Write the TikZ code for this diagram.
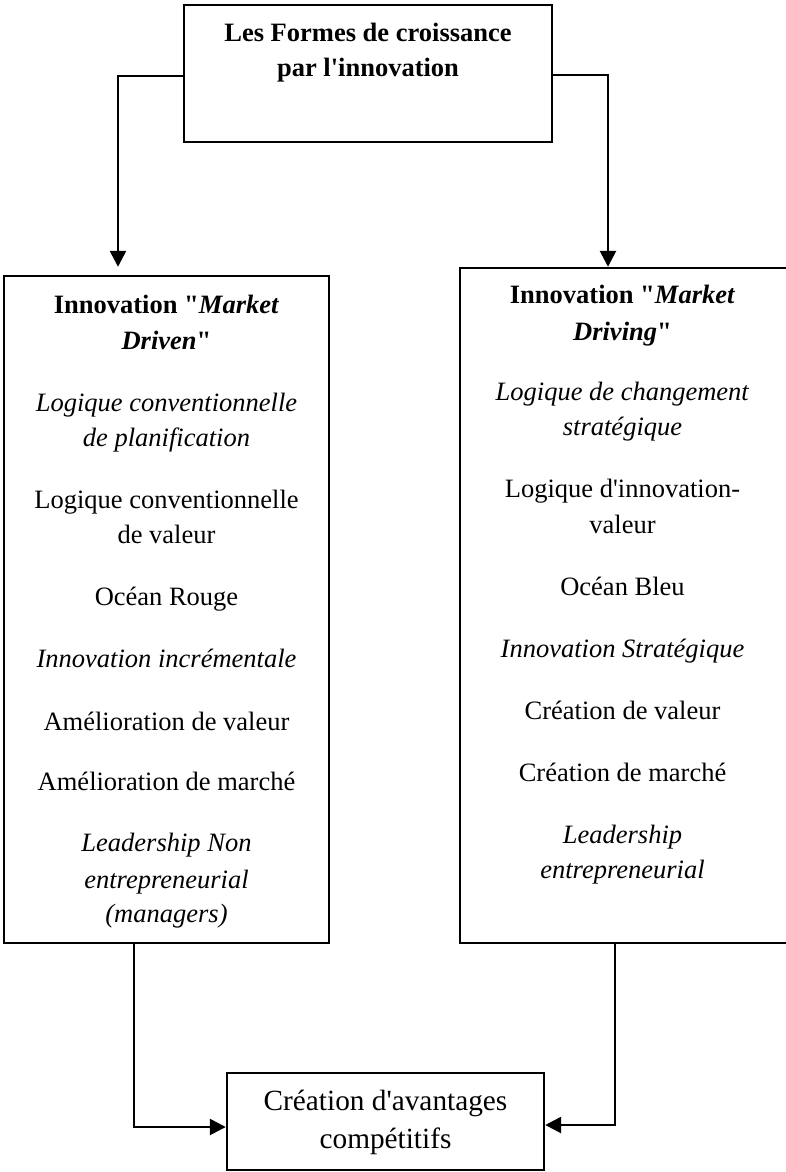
\documentclass[tikz,border=0pt]{standalone}
\usepackage{fontspec}
\setmainfont{Liberation Serif}[Ligatures=TeXOff]
\usetikzlibrary{arrows.meta}
\begin{document}
\begin{tikzpicture}[x=1pt,y=-1pt,
  box/.style={draw, line width=2.4pt, inner sep=0pt},
  conn/.style={line width=2.6pt, -{Triangle[length=16pt,width=16pt]}},
  txt/.style={anchor=base, inner sep=0pt, font=\fontsize{26.5pt}{35pt}\selectfont},
  big/.style={anchor=base, inner sep=0pt, font=\fontsize{29.3pt}{38pt}\selectfont}]
\useasboundingbox (0,0) rectangle (785,1172);
% boxes
\node[box, minimum width=368pt, minimum height=137pt] (top) at (368,73.5) {};
\node[box, minimum width=325pt, minimum height=667pt] (left) at (166.5,609.5) {};
\node[box, minimum width=327pt, minimum height=675pt] (right) at (623.5,605.5) {};
\node[box, minimum width=317pt, minimum height=97pt] (bottom) at (385.5,1121.5) {};
% top text
\node[txt] (t1) at (368,42) {\textbf{Les Formes de croissance}};
\node[txt] (t2) at (368,77) {\textbf{par l'innovation}};
% left text
\node[txt] (l1) at (166.5,313) {\textbf{Innovation "\textit{Market}}};
\node[txt] (l2) at (166.5,349) {\textbf{\textit{Driven}"}};
\node[txt] (l3) at (166.5,411.7) {\textit{Logique conventionnelle}};
\node[txt] (l4) at (166.5,446.7) {\textit{de planification}};
\node[txt] (l5) at (166.5,508) {Logique conventionnelle};
\node[txt] (l6) at (166.5,543) {de valeur};
\node[txt] (l7) at (166.5,605.7) {Océan Rouge};
\node[txt] (l8) at (166.5,667) {\textit{Innovation incrémentale}};
\node[txt] (l9) at (166.5,730) {Amélioration de valeur};
\node[txt] (l10) at (166.5,790.7) {Amélioration de marché};
\node[txt] (l11) at (166.5,851.7) {\textit{Leadership Non}};
\node[txt] (l12) at (166.5,888) {\textit{entrepreneurial}};
\node[txt] (l13) at (166.5,922) {\textit{(managers)}};
% right text
\node[txt] (r1) at (622.5,303) {\textbf{Innovation "\textit{Market}}};
\node[txt] (r2) at (622.5,340) {\textbf{\textit{Driving}"}};
\node[txt] (r3) at (622.5,400) {\textit{Logique de changement}};
\node[txt] (r4) at (622.5,435) {\textit{stratégique}};
\node[txt] (r5) at (622.5,497) {Logique d'innovation-};
\node[txt] (r6) at (622.5,533) {valeur};
\node[txt] (r7) at (622.5,595) {Océan Bleu};
\node[txt] (r8) at (622.5,657) {\textit{Innovation Stratégique}};
\node[txt] (r9) at (622.5,719) {Création de valeur};
\node[txt] (r10) at (622.5,781) {Création de marché};
\node[txt] (r11) at (622.5,843) {\textit{Leadership}};
\node[txt] (r12) at (622.5,878) {\textit{entrepreneurial}};
% bottom text
\node[big] (b1) at (385.5,1110) {Création d'avantages};
\node[big] (b2) at (385.5,1148) {compétitifs};
% connectors
\coordinate (la) at (118,76);
\coordinate (ra) at (608,75);
\coordinate (lb) at (134,1127);
\coordinate (rb) at (615,1125);
\draw[conn, shorten >=8pt] (top.west |- la) -| (la |- left.north);
\draw[conn] (top.east |- ra) -| (ra |- right.north);
\draw[conn] (left.south -| lb) |- (bottom.west |- lb);
\draw[conn] (right.south -| rb) |- (bottom.east |- rb);
\end{tikzpicture}
\end{document}
